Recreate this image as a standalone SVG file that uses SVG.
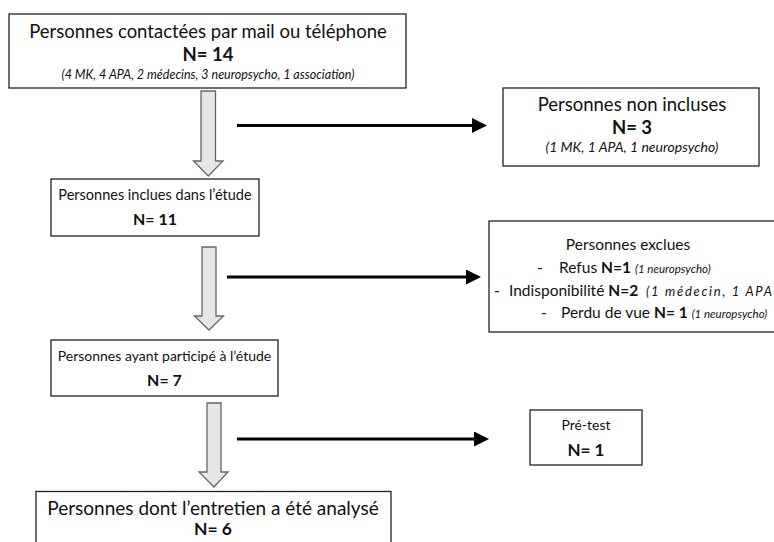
<svg xmlns="http://www.w3.org/2000/svg" width="774" height="542" viewBox="0 0 774 542">
<style>
.box{fill:#fff;stroke:#222;stroke-width:1.3}
.t{font-family:Lato,"Open Sans","Liberation Sans",sans-serif;font-size:15.5px;fill:#111}
.c{text-anchor:middle}
.b{font-weight:bold}
.i{font-style:italic;font-size:10px}
.fat{fill:#e6e6e6;stroke:#666;stroke-width:1.3}
.con{stroke:#000;stroke-width:3;fill:none}
</style>
<defs>
<marker id="ah" markerWidth="5" markerHeight="5" refX="4" refY="2.5" orient="auto" markerUnits="strokeWidth">
<path d="M0,0 L5,2.5 L0,5 Z" fill="#000"/>
</marker>
</defs>
<rect width="774" height="542" fill="#fff"/>
<g id="connectors">
<path class="fat" d="M201,91 H215.5 V161 H223 L208.3,176 L193.5,161 H201 Z"/>
<path class="fat" d="M202,247 H216 V316 H223.5 L209,330 L194.5,316 H202 Z"/>
<path class="fat" d="M207,403 H221 V472 H228 L214,487 L199,472 H207 Z"/>
<line class="con" x1="237" y1="125.5" x2="484" y2="125.5" marker-end="url(#ah)"/>
<line class="con" x1="227" y1="277" x2="478" y2="277" marker-end="url(#ah)"/>
<line class="con" x1="237" y1="439" x2="486" y2="439" marker-end="url(#ah)"/>
</g>
<g id="contactees">
<rect class="box" x="9" y="14" width="397" height="74"/>
<text class="t c" x="208" y="38" style="font-size:18.5px">Personnes contactées par mail ou téléphone</text>
<text class="t c b" x="208" y="61" style="font-size:18.5px">N= 14</text>
<text class="t c i" x="208" y="79" style="font-size:12.5px">(4 MK, 4 APA, 2 médecins, 3 neuropsycho, 1 association)</text>
</g>
<g id="non-incluses">
<rect class="box" x="503" y="88" width="256" height="78"/>
<text class="t c" x="632" y="111" style="font-size:18.5px">Personnes non incluses</text>
<text class="t c b" x="632" y="134" style="font-size:18.5px">N= 3</text>
<text class="t c i" x="632" y="152" style="font-size:14px">(1 MK, 1 APA, 1 neuropsycho)</text>
</g>
<g id="incluses">
<rect class="box" x="51" y="179" width="208" height="57"/>
<text class="t c" x="155" y="200" style="font-size:14.5px">Personnes inclues dans l’étude</text>
<text class="t c b" x="155" y="225" style="font-size:16px">N= 11</text>
</g>
<g id="exclues">
<rect class="box" x="489" y="221" width="300" height="111"/>
<text class="t c" x="628" y="250">Personnes exclues</text>
<text class="t" x="537" y="273">-</text>
<text class="t" x="559" y="273">Refus <tspan class="b">N=1</tspan> <tspan class="i" style="font-size:11.5px">(1 neuropsycho)</tspan></text>
<text class="t" x="494" y="296">-</text>
<text class="t" x="509" y="296">Indisponibilité <tspan class="b">N=2</tspan></text>
<text class="t i" x="646" y="296" style="font-size:13px" textLength="126" lengthAdjust="spacing">(1 médecin, 1 APA</text>
<text class="t" x="541" y="318">-</text>
<text class="t" x="561" y="318">Perdu de vue <tspan class="b">N= 1</tspan> <tspan class="i" style="font-size:11.5px">(1 neuropsycho)</tspan></text>
</g>
<g id="participe">
<rect class="box" x="51" y="340" width="227" height="56"/>
<text class="t c" x="164.5" y="361" style="font-size:14px">Personnes ayant participé à l’étude</text>
<text class="t c b" x="164.5" y="386" style="font-size:16px">N= 7</text>
</g>
<g id="pretest">
<rect class="box" x="530" y="410" width="112" height="55"/>
<text class="t c" x="586" y="430" style="font-size:14px">Pré-test</text>
<text class="t c b" x="586" y="456" style="font-size:17px">N= 1</text>
</g>
<g id="analyse">
<rect class="box" x="36" y="491.5" width="355" height="60"/>
<text class="t c" x="213" y="515" style="font-size:19px">Personnes dont l’entretien a été analysé</text>
<text class="t c b" x="213" y="535" style="font-size:17.5px">N= 6</text>
</g>
</svg>
